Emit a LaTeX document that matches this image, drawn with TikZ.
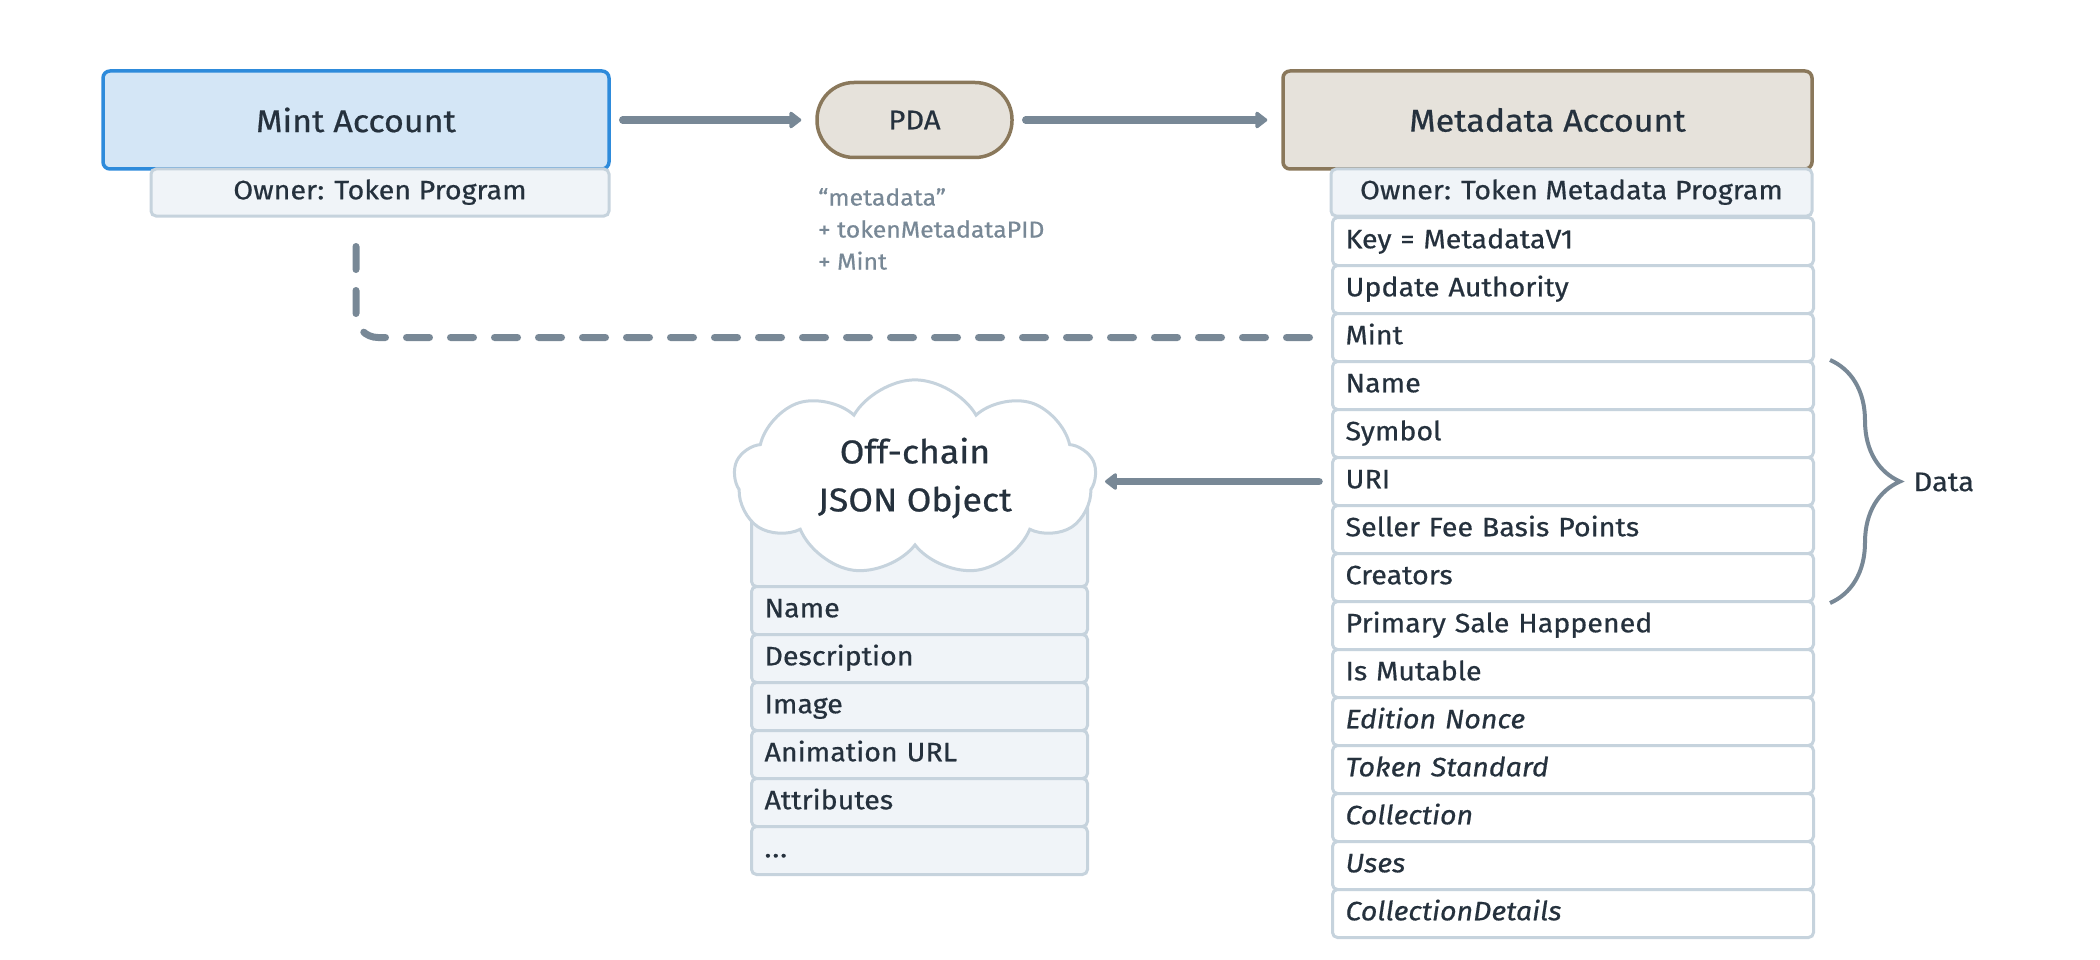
\documentclass[tikz,border=0pt]{standalone}
\usepackage{fontspec}
\setmainfont{Fira Sans}[FakeStretch=1.08, FakeBold=0.6]
\usetikzlibrary{arrows.meta,shapes.symbols,decorations.pathreplacing}
\definecolor{txt}{HTML}{25313D}
\definecolor{arrowc}{HTML}{788896}
\definecolor{rowline}{HTML}{C6D3DD}
\definecolor{ownerfill}{HTML}{F0F4F8}
\definecolor{mintfill}{HTML}{D4E6F6}
\definecolor{mintline}{HTML}{2E8BDB}
\definecolor{metafill}{HTML}{E6E2DB}
\definecolor{metaline}{HTML}{8A785B}
\tikzset{
  hdr/.style={rectangle, rounded corners=7pt, line width=3.5pt, minimum height=98pt, text=txt,
    font=\fontsize{31.5}{36}\selectfont},
  ownerbox/.style={rectangle, rounded corners=5pt, draw=rowline, fill=ownerfill, line width=3pt,
    minimum height=47pt, text=txt, font=\fontsize{26.5}{30}\selectfont, text height=18.5pt, text depth=5pt},
  rowbox/.style={rectangle, rounded corners=5pt, draw=rowline, line width=3pt, anchor=north west,
    minimum height=48pt, inner xsep=13pt, inner ysep=0pt, align=left, text=txt,
    font=\fontsize{26.5}{30}\selectfont, text height=18.5pt, text depth=5pt},
  metarow/.style={rowbox, fill=white, text width=455pt},
  jsonrow/.style={rowbox, fill=ownerfill, text width=310pt},
  arrowconn/.style={draw=arrowc, line width=7.5pt, line cap=round,
    -{Triangle[length=13pt,width=19pt,round]}},
  dashconn/.style={draw=arrowc, line width=7pt, line cap=round, dash pattern=on 23pt off 21pt},
  bracestyle/.style={draw=arrowc, line width=4pt, decorate,
    decoration={brace, amplitude=70pt, aspect=0.5}},
  plain/.style={text=txt, font=\fontsize{27}{30}\selectfont},
  pdanote/.style={text=arrowc, font=\fontsize{23}{32}\selectfont, align=left, anchor=north west, inner sep=0pt}
}
\begin{document}
\begin{tikzpicture}[x=1pt, y=-1pt]
\useasboundingbox (0,0) rectangle (2100,960);
% Mint account
\node[hdr, draw=mintline, fill=mintfill, minimum width=506pt] (mint) at (356,120) {Mint Account};
\node[ownerbox, minimum width=458pt] (mintowner) at (380,192.5) {Owner: Token Program};
% PDA
\node[hdr, draw=metaline, fill=metafill, minimum width=195pt, minimum height=75pt, rounded corners=37pt,
  font=\fontsize{27}{30}\selectfont] (pda) at (914.5,120) {PDA};
\node[pdanote] (pdanote) at (818,188) {“metadata”\\+ tokenMetadataPID\\+ Mint};
% Metadata account
\node[hdr, draw=metaline, fill=metafill, minimum width=529pt] (meta) at (1547.5,120) {Metadata Account};
\node[ownerbox, minimum width=481pt] (metaowner) at (1571.5,192.5) {Owner: Token Metadata Program};
\foreach \t [count=\i] in {Key = MetadataV1, Update Authority, Mint, Name, Symbol, URI,
  Seller Fee Basis Points, Creators, Primary Sale Happened, Is Mutable,
  {\itshape Edition Nonce}, {\itshape Token Standard}, {\itshape Collection}, {\itshape Uses},
  {\itshape CollectionDetails}}
  \node[metarow] (r\i) at (1331,{216+48*(\i-1)}) {\t};
% JSON
\node[rectangle, rounded corners=5pt, draw=rowline, fill=ownerfill, line width=3pt, anchor=north west,
  minimum width=336pt, minimum height=85pt] (jsonback) at (750,500) {};
\foreach \t [count=\i] in {Name, Description, Image, Animation URL, Attributes}
  \node[jsonrow] (j\i) at (750,{585+48*(\i-1)}) {\t};
\node[jsonrow] (j6) at (750,825) {.\kern1pt.\kern1pt.};
\node[cloud, cloud puffs=9, cloud puff arc=120, aspect=1.9, draw=rowline, fill=white, line width=3pt,
  minimum width=362pt, minimum height=191pt, align=center, text=txt,
  font=\fontsize{33}{48}\selectfont] (cloud) at (915,478) {Off-chain\\JSON Object};
% connectors
\draw[arrowconn, shorten <=12pt, shorten >=14pt] (mint.east) -- (pda.west);
\draw[arrowconn, shorten <=12pt, shorten >=14pt] (pda.east) -- (meta.west);
\draw[arrowconn, shorten <=12pt, shorten >=8pt] (r6.west) -- (r6.west -| cloud.east);
\draw[dashconn, rounded corners=22pt, shorten <=29pt, shorten >=12pt] (mint.south |- mintowner.south) |- (r3.west);
% brace
\draw[bracestyle] ([xshift=15pt]r4.north east) -- ([xshift=15pt]r8.south east);
\node[plain, anchor=west] (data) at (1910,482) {Data};
\end{tikzpicture}
\end{document}
